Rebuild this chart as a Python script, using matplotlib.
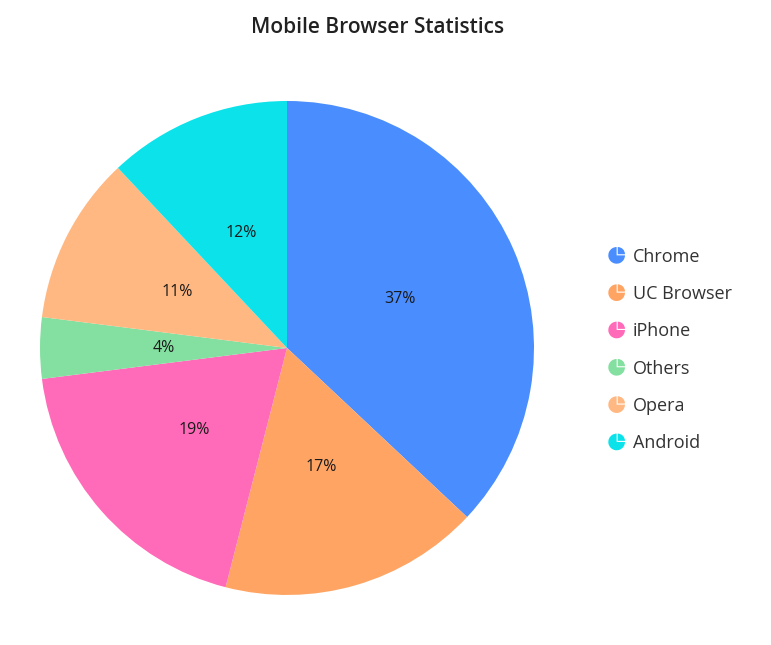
import matplotlib
matplotlib.use('Agg')
import matplotlib.pyplot as plt
from matplotlib.patches import Wedge
from matplotlib.legend_handler import HandlerPatch

browsers = ['Chrome', 'UC Browser', 'iPhone', 'Others', 'Opera', 'Android']
shares = [37, 17, 19, 4, 11, 12]
colors = ['#4A8DFF', '#FFA463', '#FF6AB9', '#83E0A0', '#FFB882', '#0CE2EA']

plt.rcParams['font.family'] = ['Open Sans', 'DejaVu Sans']


class PieIconHandler(HandlerPatch):
    # little pie glyph with the top-right quarter split off
    def create_artists(self, legend, orig_handle, xdescent, ydescent,
                       width, height, fontsize, trans):
        cx = width / 2 - xdescent
        cy = height / 2 - ydescent
        r = 6.0
        fc = orig_handle.get_facecolor()
        big = Wedge((cx, cy), r, 90, 360, facecolor=fc, edgecolor='none',
                    transform=trans)
        small = Wedge((cx + 0.8, cy + 0.8), r - 0.8, 0, 90, facecolor=fc,
                      edgecolor='none', transform=trans)
        return [big, small]


fig = plt.figure(figsize=(7.71, 6.45), dpi=100)
ax = fig.add_axes([0.0519, 0.0775, 0.6407, 0.766])

wedges, _, autotexts = ax.pie(
    shares, colors=colors, startangle=90, counterclock=False,
    autopct='%d%%', pctdistance=0.5,
    wedgeprops=dict(linewidth=0))
for t in autotexts:
    t.set_fontsize(11.5)
    t.set_color('#1a1a1a')
ax.set_xlim(-1, 1)
ax.set_ylim(-1, 1)

fig.text(0.4896, 0.957, 'Mobile Browser Statistics', ha='center', va='center',
         fontsize=15, fontweight='semibold', color='#212121')

leg = fig.legend(wedges, browsers, loc='center left',
                 bbox_to_anchor=(0.767, 0.4574), frameon=False,
                 fontsize=13, labelspacing=1.07, handlelength=1.0,
                 handletextpad=0.4,
                 handler_map={Wedge: PieIconHandler()})
for txt in leg.get_texts():
    txt.set_color('#333333')

fig.savefig('out.png', dpi=100, facecolor='white')
